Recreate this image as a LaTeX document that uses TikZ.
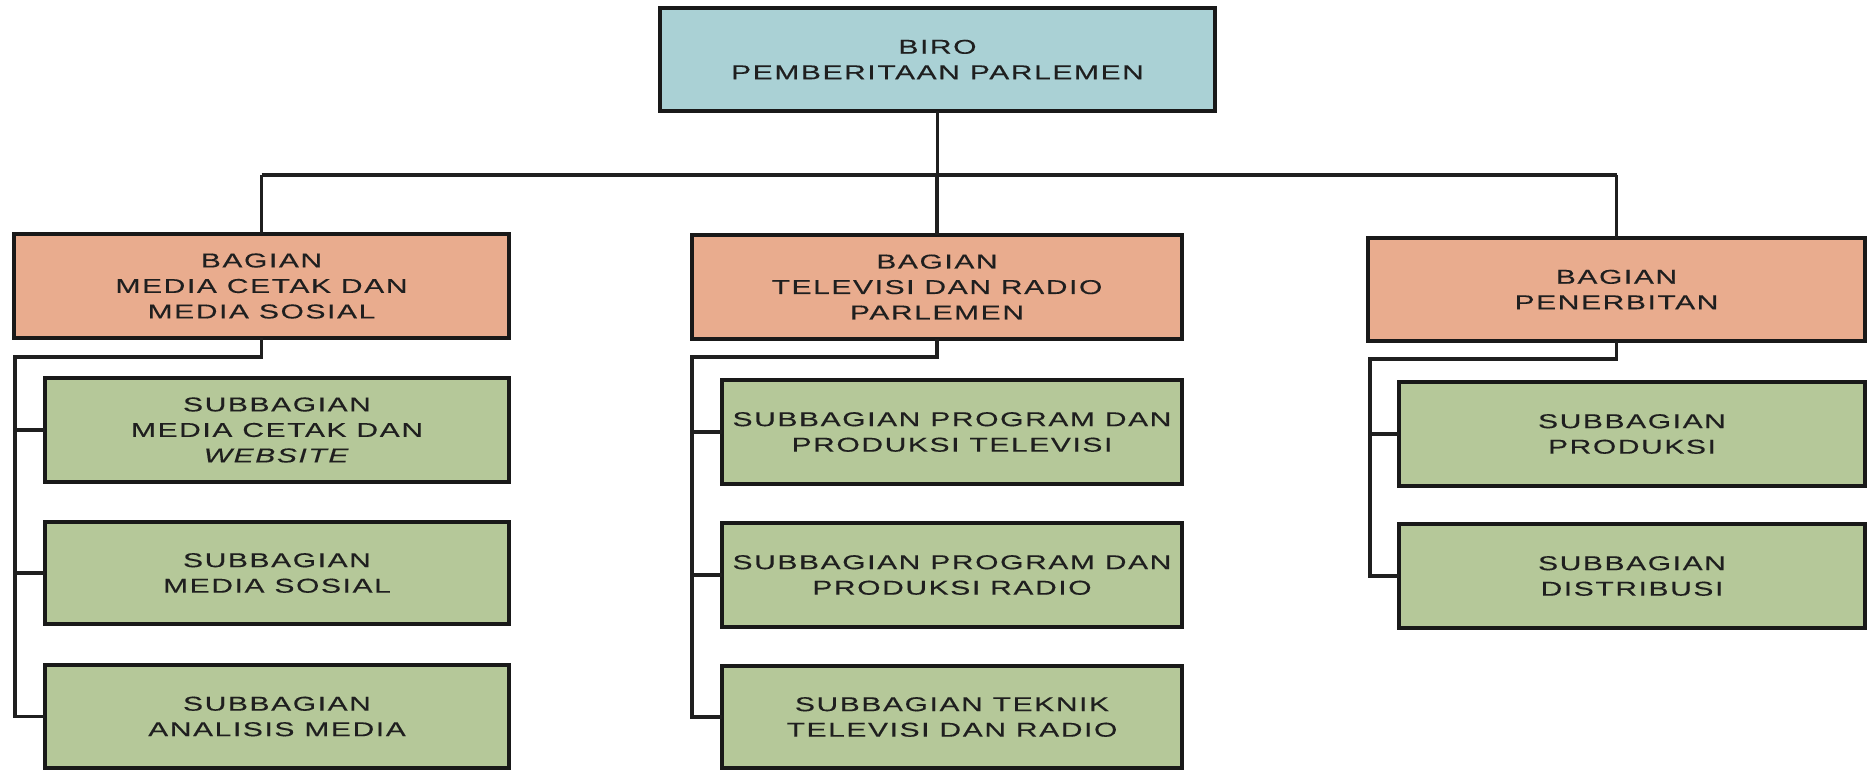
\documentclass[tikz,border=0pt]{standalone}
\usepackage{fontspec}
\setmainfont{Liberation Sans}[FakeStretch=1.5,LetterSpace=8,FakeBold=0.3]
\begin{document}
\begin{tikzpicture}[x=1pt,y=-1pt,
  every node/.style={font=\fontsize{20}{25.5}\selectfont, text=black!88},
  unit/.style={draw=black!90, line width=4pt, align=center, inner sep=0pt, outer sep=0pt},
  birobox/.style={unit, fill=biroblue},
  headbox/.style={unit, fill=headorange},
  subbox/.style={unit, fill=subgreen},
  conn/.style={draw=black!88, line width=3.4pt}]
\definecolor{biroblue}{RGB}{170,209,213}
\definecolor{headorange}{RGB}{233,172,142}
\definecolor{subgreen}{RGB}{181,200,153}
\useasboundingbox (0,0) rectangle (1872,770);

% top level
\node[birobox, minimum width=555pt, minimum height=103pt] (biro) at (937.5,59.5)
  {BIRO\\PEMBERITAAN PARLEMEN};

% sections
\node[headbox, minimum width=495pt, minimum height=104pt] (bL) at (261.5,286)
  {BAGIAN\\MEDIA CETAK DAN\\MEDIA SOSIAL};
\node[headbox, minimum width=490pt, minimum height=104pt] (bM) at (937,287)
  {BAGIAN\\TELEVISI DAN RADIO\\PARLEMEN};
\node[headbox, minimum width=497pt, minimum height=103pt] (bR) at (1616.5,289.5)
  {BAGIAN\\PENERBITAN};

% subsections, left
\node[subbox, minimum width=464pt, minimum height=104pt] (l1) at (277,430)
  {SUBBAGIAN\\MEDIA CETAK DAN\\\textit{WEBSITE}};
\node[subbox, minimum width=464pt, minimum height=102pt] (l2) at (277,573)
  {SUBBAGIAN\\MEDIA SOSIAL};
\node[subbox, minimum width=464pt, minimum height=103pt] (l3) at (277,716.5)
  {SUBBAGIAN\\ANALISIS MEDIA};

% subsections, middle
\node[subbox, minimum width=460pt, minimum height=104pt] (m1) at (952,432)
  {SUBBAGIAN PROGRAM DAN\\PRODUKSI TELEVISI};
\node[subbox, minimum width=460pt, minimum height=104pt] (m2) at (952,575)
  {SUBBAGIAN PROGRAM DAN\\PRODUKSI RADIO};
\node[subbox, minimum width=460pt, minimum height=102pt] (m3) at (952,717)
  {SUBBAGIAN TEKNIK\\TELEVISI DAN RADIO};

% subsections, right
\node[subbox, minimum width=466pt, minimum height=104pt] (r1) at (1632,434)
  {SUBBAGIAN\\PRODUKSI};
\node[subbox, minimum width=466pt, minimum height=104pt] (r2) at (1632,576)
  {SUBBAGIAN\\DISTRIBUSI};

% main bus
\coordinate (bus) at (0,175);
\draw[conn] (biro.south) -- (biro.south |- bus);
\draw[conn] (bL.north |- bus) -- (bR.north |- bus);
\draw[conn] (bL.north |- bus) -- (bL.north);
\draw[conn] (bM.north |- bus) -- (bM.north);
\draw[conn] (bR.north |- bus) -- (bR.north);

% branch trunks
\coordinate (tL) at (15,357);
\coordinate (tM) at (692,357);
\coordinate (tR) at (1370,359);

\draw[conn] (bL.south) |- (tL) -- (tL |- l3.west) -- (l3.west);
\draw[conn] (tL |- l1.west) -- (l1.west);
\draw[conn] (tL |- l2.west) -- (l2.west);

\draw[conn] (bM.south) |- (tM) -- (tM |- m3.west) -- (m3.west);
\draw[conn] (tM |- m1.west) -- (m1.west);
\draw[conn] (tM |- m2.west) -- (m2.west);

\draw[conn] (bR.south) |- (tR) -- (tR |- r2.west) -- (r2.west);
\draw[conn] (tR |- r1.west) -- (r1.west);
\end{tikzpicture}
\end{document}
